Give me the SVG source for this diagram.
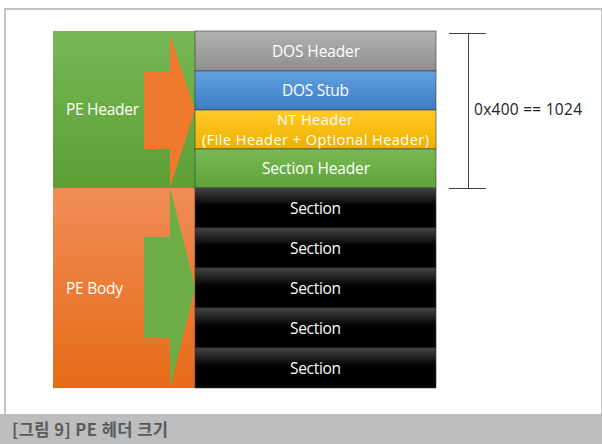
<svg xmlns="http://www.w3.org/2000/svg" width="602" height="444" viewBox="0 0 602 444">
  <defs>
    <linearGradient id="gGreen" x1="0" y1="0" x2="0" y2="1">
      <stop offset="0" stop-color="#78b755"/>
      <stop offset="1" stop-color="#5c9f35"/>
    </linearGradient>
    <linearGradient id="gOrange" x1="0" y1="0" x2="0" y2="1">
      <stop offset="0" stop-color="#f08d57"/>
      <stop offset="1" stop-color="#e66b17"/>
    </linearGradient>
    <linearGradient id="gGray" x1="0" y1="0" x2="0" y2="1">
      <stop offset="0" stop-color="#b2b2b2"/>
      <stop offset="1" stop-color="#8e8e8e"/>
    </linearGradient>
    <linearGradient id="gBlue" x1="0" y1="0" x2="0" y2="1">
      <stop offset="0" stop-color="#62a2e0"/>
      <stop offset="1" stop-color="#3d7cc4"/>
    </linearGradient>
    <linearGradient id="gYellow" x1="0" y1="0" x2="0" y2="1">
      <stop offset="0" stop-color="#ffca28"/>
      <stop offset="1" stop-color="#eeb000"/>
    </linearGradient>
    <linearGradient id="gSecHdr" x1="0" y1="0" x2="0" y2="1">
      <stop offset="0" stop-color="#79b955"/>
      <stop offset="1" stop-color="#5fa239"/>
    </linearGradient>
    <linearGradient id="gBlack" x1="0" y1="0" x2="0" y2="1">
      <stop offset="0" stop-color="#444444"/>
      <stop offset="0.45" stop-color="#000000"/>
      <stop offset="1" stop-color="#000000"/>
    </linearGradient>
  </defs>
  <style>
    .lbl { font-family: "Open Sans", "Noto Sans", sans-serif; font-size: 15.5px; fill: #ffffff; text-anchor: middle; }
    .nt { font-size: 14.6px; }
    .side { font-family: "Open Sans", "Noto Sans", sans-serif; font-size: 15.5px; fill: #ffffff; }
    .row { stroke: #3a3a3a; stroke-width: 0.6; }
    .dim { stroke: #404040; stroke-width: 1; fill: none; }
  </style>

  <!-- page frame and caption band -->
  <rect x="0" y="0" width="602" height="444" fill="#ffffff"/>
  <rect x="5" y="9" width="597" height="406" fill="none" stroke="#c4c4c4" stroke-width="2"/>
  <rect x="0" y="414" width="602" height="30" fill="#bcbdbf"/>
  <text x="12" y="436" font-family="'Noto Sans CJK KR', 'Noto Sans', sans-serif" font-size="16.5" font-weight="bold" fill="#5a5a5a" textLength="156" lengthAdjust="spacing">[그림 9] PE 헤더 크기</text>

  <!-- PE Header block with arrow -->
  <g id="pe-header">
    <rect x="53" y="31" width="142" height="157" fill="url(#gGreen)"/>
    <polygon points="144,72 170,72 170,35 195,110 170,188 170,149 144,149" fill="#ee7a2e"/>
    <text class="side" x="66" y="115" textLength="73" lengthAdjust="spacing">PE Header</text>
  </g>

  <!-- PE Body block with arrow -->
  <g id="pe-body">
    <rect x="53" y="188" width="142" height="200" fill="url(#gOrange)"/>
    <polygon points="144,237 170,237 170,188 195,287 170,388 170,338 144,338" fill="#6cae45"/>
    <text class="side" x="66" y="294" textLength="57" lengthAdjust="spacing">PE Body</text>
  </g>

  <!-- header rows -->
  <g id="dos-header">
    <rect class="row" x="195" y="31" width="241" height="40" fill="url(#gGray)"/>
    <text class="lbl" x="316" y="57" textLength="88" lengthAdjust="spacing">DOS Header</text>
  </g>
  <g id="dos-stub">
    <rect class="row" x="195" y="71" width="241" height="39" fill="url(#gBlue)"/>
    <text class="lbl" x="315.5" y="96" textLength="67" lengthAdjust="spacing">DOS Stub</text>
  </g>
  <g id="nt-header">
    <rect class="row" x="195" y="110" width="241" height="39" fill="url(#gYellow)"/>
    <text class="lbl nt" x="315" y="124.5" textLength="76" lengthAdjust="spacing">NT Header</text>
    <text class="lbl nt" x="315.5" y="144.5" textLength="227" lengthAdjust="spacing">(File Header + Optional Header)</text>
  </g>
  <g id="section-header">
    <rect class="row" x="195" y="149" width="241" height="39" fill="url(#gSecHdr)"/>
    <text class="lbl" x="316" y="174" textLength="108" lengthAdjust="spacing">Section Header</text>
  </g>

  <!-- section rows -->
  <g id="section-1">
    <rect class="row" x="195" y="188" width="241" height="40" fill="url(#gBlack)"/>
    <text class="lbl" x="315.5" y="214" textLength="51" lengthAdjust="spacing">Section</text>
  </g>
  <g id="section-2">
    <rect class="row" x="195" y="228" width="241" height="40" fill="url(#gBlack)"/>
    <text class="lbl" x="315.5" y="254" textLength="51" lengthAdjust="spacing">Section</text>
  </g>
  <g id="section-3">
    <rect class="row" x="195" y="268" width="241" height="40" fill="url(#gBlack)"/>
    <text class="lbl" x="315.5" y="294" textLength="51" lengthAdjust="spacing">Section</text>
  </g>
  <g id="section-4">
    <rect class="row" x="195" y="308" width="241" height="40" fill="url(#gBlack)"/>
    <text class="lbl" x="315.5" y="334" textLength="51" lengthAdjust="spacing">Section</text>
  </g>
  <g id="section-5">
    <rect class="row" x="195" y="348" width="241" height="40" fill="url(#gBlack)"/>
    <text class="lbl" x="315.5" y="374" textLength="51" lengthAdjust="spacing">Section</text>
  </g>

  <!-- size bracket -->
  <g id="connectors">
    <line class="dim" x1="468.5" y1="33" x2="468.5" y2="189"/>
    <line class="dim" x1="449" y1="33.5" x2="486" y2="33.5"/>
    <line class="dim" x1="449" y1="188.5" x2="486" y2="188.5"/>
  </g>
  <g id="size-label">
    <rect x="470" y="99" width="116" height="22" fill="#ffffff"/>
    <text x="474" y="115" font-family="'Open Sans', 'Noto Sans', sans-serif" font-size="15.5" fill="#222222" textLength="108" lengthAdjust="spacing">0x400 == 1024</text>
  </g>
</svg>
